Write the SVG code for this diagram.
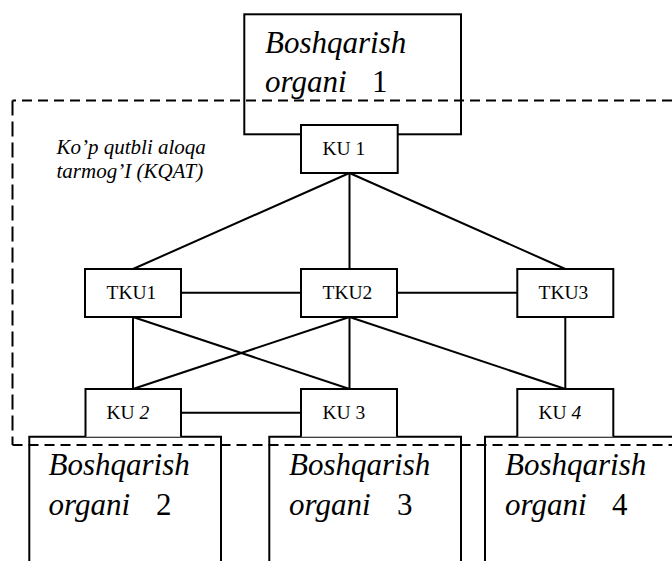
<svg xmlns="http://www.w3.org/2000/svg" width="672" height="561" viewBox="0 0 672 561">
<style>
.box{fill:none;stroke:#000;stroke-width:2}
.node{fill:#fff;stroke:#000;stroke-width:2}
.ln{stroke:#000;stroke-width:2;fill:none}
.dash{stroke:#000;stroke-width:2;fill:none}
text{font-family:'Liberation Serif',Tinos,'Times New Roman','DejaVu Serif',serif;fill:#000}
.big{font-size:31px}
.it{font-style:italic}
.sm{font-size:19.5px}
.lbl{font-size:21px;font-style:italic}
</style>
<rect width="672" height="561" fill="#fff"/>

<g id="organ1">
<rect class="box" x="244.3" y="14.3" width="216.7" height="120"/>
<text class="big" y="53.3"><tspan class="it" x="265">Boshqarish</tspan></text>
<text class="big" y="91.7"><tspan class="it" x="265">organi</tspan><tspan x="372">1</tspan></text>
</g>

<g id="organ2">
<path class="box" d="M29.3,561 V436.7 H221 V561"/>
<text class="big" y="475"><tspan class="it" x="48.5">Boshqarish</tspan></text>
<text class="big" y="515"><tspan class="it" x="48.5">organi</tspan><tspan x="156">2</tspan></text>
</g>

<g id="organ3">
<path class="box" d="M269.3,561 V436.7 H461 V561"/>
<text class="big" y="475"><tspan class="it" x="289">Boshqarish</tspan></text>
<text class="big" y="515"><tspan class="it" x="289">organi</tspan><tspan x="397">3</tspan></text>
</g>

<g id="organ4">
<path class="box" d="M485,561 V436.7 H680"/>
<text class="big" y="475"><tspan class="it" x="505">Boshqarish</tspan></text>
<text class="big" y="515"><tspan class="it" x="505">organi</tspan><tspan x="612">4</tspan></text>
</g>

<g id="kqat">
<line class="dash" x1="672" y1="100.5" x2="12.5" y2="100.5" stroke-dasharray="10 6"/>
<line class="dash" x1="12.5" y1="100.5" x2="12.5" y2="445" stroke-dasharray="15 6"/>
<line class="dash" x1="12.5" y1="445" x2="672" y2="445" stroke-dasharray="10 6"/>
<text class="lbl" x="56.5" y="154">Ko’p qutbli aloqa</text>
<text class="lbl" x="56.5" y="178.3">tarmog’I (KQAT)</text>
</g>

<g id="connectors">
<line class="ln" x1="349.5" y1="173" x2="133" y2="269"/>
<line class="ln" x1="349.5" y1="173" x2="349.5" y2="269"/>
<line class="ln" x1="349.5" y1="173" x2="565.3" y2="269"/>
<line class="ln" x1="181" y1="292.7" x2="301" y2="292.7"/>
<line class="ln" x1="397" y1="292.7" x2="517.3" y2="292.7"/>
<line class="ln" x1="133" y1="317" x2="133" y2="389"/>
<line class="ln" x1="133" y1="317" x2="349.5" y2="389"/>
<line class="ln" x1="349.5" y1="317" x2="133" y2="389"/>
<line class="ln" x1="349.5" y1="317" x2="349.5" y2="389"/>
<line class="ln" x1="349.5" y1="317" x2="565.3" y2="389"/>
<line class="ln" x1="565.3" y1="317" x2="565.3" y2="389"/>
<line class="ln" x1="181" y1="412.7" x2="301" y2="412.7"/>
</g>

<g id="ku1">
<rect class="node" x="301" y="125" width="96.7" height="48"/>
<text class="sm" x="322.5" y="155">KU 1</text>
</g>
<g id="tku1">
<rect class="node" x="85" y="269" width="96" height="48"/>
<text class="sm" x="106.5" y="299.3">TKU1</text>
</g>
<g id="tku2">
<rect class="node" x="301" y="269" width="96" height="48"/>
<text class="sm" x="322.5" y="299.3">TKU2</text>
</g>
<g id="tku3">
<rect class="node" x="517.3" y="269" width="96" height="48"/>
<text class="sm" x="538.5" y="299.3">TKU3</text>
</g>
<g id="ku2">
<path class="node" d="M85.5,436.7 V389 H181 V436.7"/>
<text class="sm" x="106.5" y="419.3">KU <tspan class="it">2</tspan></text>
</g>
<g id="ku3">
<path class="node" d="M301,436.7 V389 H397 V436.7"/>
<text class="sm" x="322.5" y="419.3">KU 3</text>
</g>
<g id="ku4">
<path class="node" d="M517.3,436.7 V389 H613.3 V436.7"/>
<text class="sm" x="538.5" y="419.3">KU <tspan class="it">4</tspan></text>
</g>
</svg>
